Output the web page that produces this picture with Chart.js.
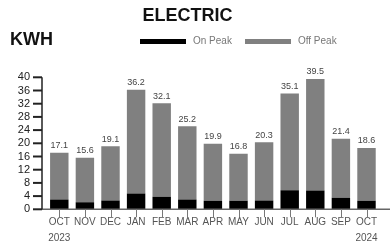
<!DOCTYPE html>
<html>
<head>
<meta charset="utf-8">
<script src="https://cdn.jsdelivr.net/npm/chart.js@4/dist/chart.umd.min.js"></script>
<style>
  html, body { margin: 0; padding: 0; background: #fff; }
  #wrap { position: relative; width: 390px; height: 246px; overflow: hidden; font-family: "Liberation Sans", Arial, sans-serif; }
  #title { position: absolute; left: 0; width: 375px; top: 6px; text-align: center; font-weight: bold; font-size: 18px; line-height: 18px; color: #111; }
  #unit { position: absolute; left: 10px; top: 30px; font-weight: bold; font-size: 18px; line-height: 18px; color: #111; }
  #legend { position: absolute; left: 140px; top: 34px; display: flex; align-items: center; font-size: 10px; line-height: 14px; color: #777; }
  .item { display: flex; align-items: center; margin-right: 13px; }
  .sw { width: 46px; height: 5px; margin-right: 7px; }
  canvas { position: absolute; left: 0; top: 0; }
</style>
</head>
<body>
<div id="wrap">
  <canvas id="c" width="390" height="246"></canvas>
  <div id="title">ELECTRIC</div>
  <div id="unit">KWH</div>
  <div id="legend"></div>
</div>
<script>
const months = ['OCT','NOV','DEC','JAN','FEB','MAR','APR','MAY','JUN','JUL','AUG','SEP','OCT'];
const years = ['2023','','','','','','','','','','','','2024'];
const onPeak  = [3.0, 2.1, 2.7, 4.8, 3.8, 3.0, 2.6, 2.6, 2.7, 5.8, 5.7, 3.5, 2.6];
const offPeak = [14.1, 13.5, 16.4, 31.4, 28.3, 22.2, 17.3, 14.2, 17.6, 29.3, 33.8, 17.9, 16.0];
const yTicks = [0, 4, 8, 12, 16, 20, 24, 28, 32, 36, 40];

const labels = months.map((m, i) => years[i] ? [m, years[i]] : m);

const axesPlugin = {
  id: 'axesPlugin',
  afterDatasetsDraw(chart) {
    const ctx = chart.ctx;
    const x = chart.scales.x, y = chart.scales.y;
    const y0 = y.getPixelForValue(0);
    const yTop = y.getPixelForValue(40);
    const axisX = chart.chartArea.left - 4.5;
    ctx.save();
    ctx.strokeStyle = '#666';
    ctx.lineWidth = 1.5;
    ctx.beginPath(); ctx.moveTo(axisX, y0); ctx.lineTo(390, y0); ctx.stroke();
    ctx.lineWidth = 1;
    ctx.strokeStyle = '#777';
    for (let i = 0; i < months.length; i++) {
      const px = Math.round(x.getPixelForValue(i)) + 0.5;
      ctx.beginPath(); ctx.moveTo(px, y0); ctx.lineTo(px, y0 + 8); ctx.stroke();
    }
    ctx.strokeStyle = '#222';
    ctx.lineWidth = 1.5;
    ctx.beginPath(); ctx.moveTo(axisX, yTop); ctx.lineTo(axisX, y0); ctx.stroke();
    ctx.lineWidth = 2;
    yTicks.forEach(v => {
      const py = y.getPixelForValue(v);
      ctx.beginPath(); ctx.moveTo(axisX - 9, py); ctx.lineTo(axisX, py); ctx.stroke();
    });
    ctx.fillStyle = '#444';
    ctx.font = '9px "Liberation Sans", Arial, sans-serif';
    ctx.textAlign = 'center';
    ctx.textBaseline = 'bottom';
    for (let i = 0; i < months.length; i++) {
      const tot = onPeak[i] + offPeak[i];
      ctx.fillText(tot.toFixed(1), x.getPixelForValue(i), y.getPixelForValue(tot) - 2.5);
    }
    ctx.restore();
  }
};

const chart = new Chart(document.getElementById('c'), {
  type: 'bar',
  data: {
    labels: labels,
    datasets: [
      { label: 'On Peak', data: onPeak, backgroundColor: '#000000', borderWidth: 0 },
      { label: 'Off Peak', data: offPeak, backgroundColor: '#808080', borderWidth: 0 }
    ]
  },
  options: {
    responsive: false,
    devicePixelRatio: 1,
    animation: false,
    categoryPercentage: 1,
    barPercentage: 0.72,
    layout: { padding: { top: 77.3, right: 10.7, left: 0, bottom: 0 } },
    plugins: { legend: { display: false }, title: { display: false }, tooltip: { enabled: false } },
    scales: {
      x: {
        stacked: true,
        offset: true,
        grid: { display: false, drawTicks: false },
        border: { display: false },
        afterFit: s => { s.height = 36.7; },
        ticks: {
          padding: 5.4,
          maxRotation: 0,
          autoSkip: false,
          color: '#555',
          font: { family: '"Liberation Sans", Arial, sans-serif', size: 10, lineHeight: 1.6 }
        }
      },
      y: {
        stacked: true,
        min: 0,
        max: 40,
        grid: { display: false, drawTicks: false },
        border: { display: false },
        afterFit: s => { s.width = 46.5; },
        afterBuildTicks: s => { s.ticks = yTicks.map(v => ({ value: v })); },
        ticks: {
          padding: 16.5,
          autoSkip: false,
          color: '#222',
          font: { family: '"Liberation Sans", Arial, sans-serif', size: 11, lineHeight: 1 }
        }
      }
    }
  },
  plugins: [axesPlugin]
});

const legend = document.getElementById('legend');
chart.data.datasets.forEach(ds => {
  const it = document.createElement('div'); it.className = 'item';
  const sw = document.createElement('div'); sw.className = 'sw'; sw.style.background = ds.backgroundColor;
  const tx = document.createElement('span'); tx.textContent = ds.label;
  it.appendChild(sw); it.appendChild(tx); legend.appendChild(it);
});
</script>
</body>
</html>
